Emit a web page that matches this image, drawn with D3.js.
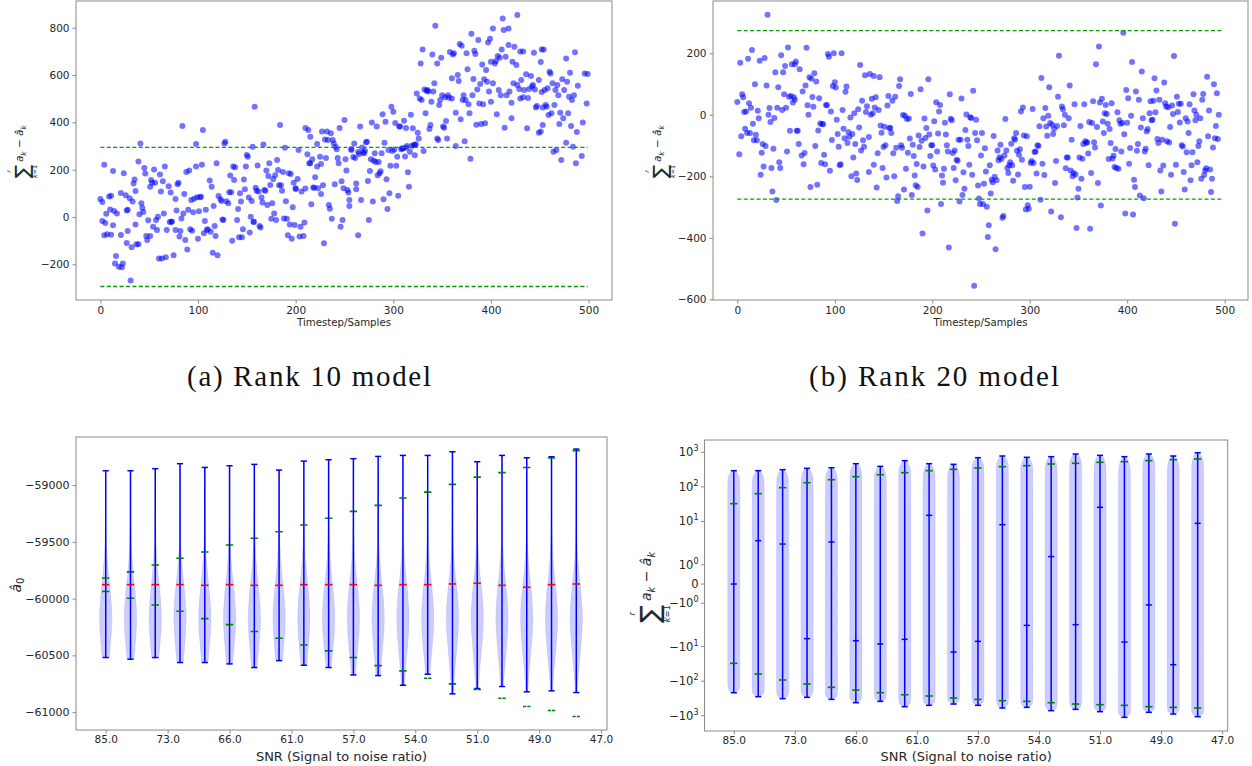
<!DOCTYPE html>
<html><head><meta charset="utf-8">
<script src="https://cdn.jsdelivr.net/npm/d3@7"></script>
<style>body{margin:0;background:#fff}svg{display:block}</style>
</head><body><svg id="c" width="1252" height="766"></svg>
<script>
// ---------------- DATA ----------------
const rank10Samples = [
0,2,4,2,5,4,7,6,9,11,10,13,11,13,14,16,15,17,19,21,21,22,23,24,26,27,27,28,28,30,31,32,33,34,35,36,36,37,39,39,40,41,42,43,44,45,46,47,48,49,
51,51,52,53,54,55,56,57,58,59,60,61,62,63,64,65,66,67,68,70,71,72,73,73,75,77,77,78,79,80,81,82,83,84,85,86,87,88,89,90,91,92,93,94,95,96,98,98,99,
100,101,102,103,104,105,106,107,108,109,110,112,113,114,115,116,117,118,119,120,121,123,124,125,126,127,128,129,131,132,133,134,135,136,137,138,140,141,142,143,144,145,146,147,148,149,150,
151,152,153,154,155,156,157,157,158,159,160,161,162,163,164,165,166,167,168,169,170,171,172,173,174,175,176,177,178,179,180,181,182,183,184,185,186,187,188,189,190,191,192,193,194,195,196,197,198,199,
200,200,202,203,204,205,206,208,209,210,210,212,213,214,215,215,216,217,218,219,220,222,222,223,225,226,226,227,228,229,230,231,232,233,234,235,236,237,238,239,240,241,242,243,244,245,246,247,248,249,250,
251,252,253,254,255,255,257,257,259,260,261,262,262,264,264,265,266,267,268,269,270,271,272,273,274,275,276,277,278,279,280,281,282,283,284,285,286,287,288,289,290,291,292,293,294,295,296,297,298,299,300,
301,302,303,304,305,306,307,308,309,310,311,312,313,313,314,315,316,317,318,319,320,321,322,322,323,324,325,326,327,328,329,330,331,332,333,334,335,336,337,338,339,340,341,342,343,345,345,346,347,348,349,350,
351,352,353,354,355,356,357,358,360,360,361,362,364,364,366,367,368,369,370,371,372,373,374,375,376,377,378,379,380,381,382,383,384,385,386,387,388,389,390,391,392,393,394,395,396,397,398,399,400,
400,402,402,404,405,406,407,408,409,410,411,412,413,414,415,416,418,418,419,421,421,422,423,424,426,427,427,429,430,430,431,433,433,434,436,437,438,439,441,442,443,444,445,446,447,449,449,451,452,453,
451,452,453,454,455,456,457,458,459,460,461,462,463,464,465,466,467,468,469,470,471,472,473,474,475,477,477,478,479,480,481,482,483,484,485,486,487,488,489,493,494,496,498,499];
const rank10Values = [
76,63,221,-17,-25,-77,-73,14,87,90,32,194,-75,-35,25,-165,-197,15,-210,101,-76,-213,-197,185,92,-110,27,-59,30,79,-269,-128,65,142,158,110,-32,-115,234,-115,11,311,58,38,21,207,184,-80,-97,-14,
-80,128,156,145,-41,201,145,-13,-55,1,-176,180,108,-176,151,15,213,-170,-55,130,-21,103,-20,-20,-162,76,-55,27,138,145,-83,-59,-6,385,15,97,-97,190,-137,30,196,-52,72,-58,20,77,308,213,83,
-92,24,83,86,221,368,-69,-17,31,-55,-52,154,-63,128,-151,46,-38,-80,227,-162,89,75,68,-11,-13,311,318,66,58,104,175,104,-100,213,156,210,-13,34,-86,100,65,-86,-52,158,117,213,262,
255,82,-66,1,68,297,-20,-21,466,124,111,218,108,-38,-45,82,61,306,114,111,196,51,173,227,135,-7,58,161,15,176,-13,241,199,134,389,134,111,190,-6,293,66,-8,-77,185,-32,182,-92,41,145,-34,
121,118,161,283,-83,-41,108,-80,-23,376,120,265,368,227,339,227,54,244,125,124,168,213,308,121,255,97,224,361,134,-111,328,249,361,325,51,35,354,-7,325,311,138,297,286,249,227,376,-41,151,-13,121,410,
244,196,114,103,72,46,283,287,254,311,249,117,142,-77,275,266,382,72,294,273,269,279,316,318,152,-13,194,244,399,65,238,269,232,382,176,232,185,193,269,434,75,314,403,159,34,283,100,217,466,279,445,
285,397,217,255,90,382,382,286,290,289,407,256,293,376,300,189,128,276,432,301,375,303,261,304,307,522,356,332,501,649,494,708,279,539,438,534,537,530,372,389,487,687,530,565,808,649,332,325,473,494,673,515,
382,377,506,406,332,515,504,697,501,586,687,692,300,441,600,575,731,413,724,494,515,320,494,692,625,477,438,246,775,515,583,703,689,390,539,748,480,562,393,645,477,582,396,621,572,738,530,753,487,
656,797,565,649,659,434,680,537,673,515,708,839,790,377,677,515,727,797,530,483,417,656,565,720,642,854,558,541,501,699,579,699,506,537,603,375,503,541,596,552,558,694,539,463,469,356,579,655,708,463,
361,528,389,708,537,473,466,544,431,614,607,438,565,276,473,537,283,558,515,393,441,241,582,417,537,314,670,572,438,508,610,385,494,297,515,696,227,359,555,258,399,607,480,604];
const rank10Bound = 294;

const rank20Samples = [
0,2,3,4,5,6,7,8,9,10,11,12,13,14,15,16,17,18,19,20,21,22,23,24,25,26,27,28,29,30,31,32,33,34,35,36,37,38,39,40,41,42,43,44,45,46,47,48,49,50,
51,52,53,54,55,56,57,58,59,59,60,61,62,63,64,66,67,68,69,70,71,72,73,74,75,76,77,78,79,80,81,82,83,84,85,86,87,88,89,90,91,92,93,94,95,96,97,98,99,100,
101,102,103,104,105,106,107,108,109,110,111,112,113,114,115,116,117,118,119,120,121,122,123,124,125,126,127,128,129,130,131,132,133,135,135,136,137,138,139,140,140,141,142,143,144,145,146,147,148,149,150,
151,152,153,154,155,156,157,158,159,160,161,162,163,164,165,166,167,168,169,170,171,172,173,174,175,176,177,178,179,180,181,182,183,184,185,186,187,188,189,190,191,192,193,194,195,196,197,198,199,200,
201,202,203,204,205,206,207,208,209,210,211,212,213,214,215,216,217,218,219,220,221,222,223,224,225,226,227,228,229,230,231,232,233,234,235,236,237,238,239,240,241,242,243,244,245,246,247,248,249,250,
251,252,253,254,255,256,257,258,259,260,261,262,263,264,265,266,267,268,269,270,271,272,273,274,275,276,277,278,279,280,281,282,283,284,285,286,287,288,289,290,291,292,293,294,295,296,297,298,299,
300,301,302,303,304,305,306,307,308,309,310,311,312,313,314,315,316,317,318,319,320,321,322,323,324,325,326,327,328,329,330,332,333,334,335,336,337,338,339,340,341,342,343,344,345,346,347,348,349,350,
351,352,353,354,355,356,357,358,359,360,361,362,363,364,365,366,367,368,369,370,371,372,373,374,375,376,377,378,379,380,381,382,383,384,385,386,387,388,389,390,391,392,393,394,395,396,397,398,399,400,
401,402,403,404,405,406,407,408,409,410,411,412,413,414,415,416,417,418,419,420,421,422,423,424,425,426,427,428,429,430,431,432,433,434,435,436,437,438,439,440,441,442,443,444,445,446,447,448,
449,450,451,452,453,454,455,456,457,458,459,460,461,462,463,464,465,466,467,468,469,470,471,472,473,474,475,476,477,478,479,480,481,482,483,484,485,486,487,488,489,490,491,492,493,494];
const rank20Values = [
42,-128,169,-70,67,57,9,-45,11,-59,182,38,-59,23,211,-29,-83,99,-65,-83,13,-11,176,-195,-123,-95,-168,185,-101,95,325,0,22,-23,-173,-249,-110,-10,138,-277,23,90,-154,-173,194,16,138,67,159,23,
-119,219,59,-52,61,164,40,57,164,49,173,-52,-52,-95,148,-132,76,-161,-124,95,218,31,0,122,-235,117,58,26,135,-101,108,-227,-51,54,-28,-157,-30,-31,-130,-161,32,31,198,189,-182,11,-82,94,200,106,
89,-16,-62,-104,-164,-161,200,16,-45,-76,75,92,-92,-57,-71,-9,-200,-62,-139,5,-95,-191,-212,18,-41,162,-116,46,-83,-104,129,9,28,-186,-72,133,0,52,5,-162,126,24,57,-236,-125,16,122,-35,-58,-173,-105,
-39,-99,-204,30,61,-43,-43,-59,46,-125,-200,59,-107,-280,-265,94,116,-99,-107,-1,-243,-3,-175,-14,-123,-12,-77,68,-261,-97,-134,-197,-229,-160,-235,-67,-105,83,-84,-386,-168,-12,-75,-43,-311,116,-64,-134,-99,-99,
-165,-21,-178,41,-119,-61,11,32,-290,-197,-221,-175,-26,-64,-99,-119,-431,67,-13,-18,-124,-173,-116,-213,-146,-149,-81,-282,-81,53,-261,-187,-240,-49,1,-81,-101,-162,-8,-10,-195,78,-556,-59,-16,-83,-230,-272,-290,-132,
-59,-290,-224,-109,-184,-299,-397,-359,-164,-256,-211,-219,-69,-201,-437,-213,-116,-148,-138,-97,-144,-335,-329,-132,-14,-116,-173,-189,-164,-154,-94,-164,-214,-76,-81,-59,-117,-194,-130,-112,11,-146,24,-67,-235,-308,-70,-294,-305,
-234,-157,-150,19,-157,-121,-119,-191,-99,-101,-37,-276,120,-159,-11,-196,22,-38,-68,-3,90,-27,-314,-32,-62,-45,-222,-150,-36,59,192,-333,27,18,-34,0,-174,-139,-139,-11,95,-181,-81,-200,-189,34,-194,-368,-269,-240,
-139,-36,-208,-143,-95,34,-86,-92,-89,-126,-23,-370,-189,-27,44,-89,-106,164,-40,-222,222,40,-295,52,-22,-59,5,32,3,-29,-144,-46,-92,38,-142,-133,-170,-111,-173,8,-175,-18,-29,-119,-27,267,-63,-321,81,-26,
54,-159,-108,-3,172,-324,-211,-235,76,-117,-95,49,-262,-41,141,-11,-271,-119,-110,-54,-46,-164,5,44,-18,-16,46,119,8,79,-79,-92,49,-181,-249,-81,-165,105,38,27,-86,25,-90,-40,-195,30,3,191,
-354,-162,59,9,36,-25,36,-99,-103,-186,-243,-11,-122,-22,-59,34,-213,-164,-122,67,14,-18,0,-154,-101,-86,-11,-208,49,68,-196,-181,-174,124,-70,14,-178,-251,-208,-106,99,-76,-36,70,-79,0];
const rank20Bound = 274;

const timeTicks = [0,100,200,300,400,500];
const rank10YTicks = [-200,0,200,400,600,800];
const rank20YTicks = [-600,-400,-200,0,200];

const snrTickPositions = [0,2.5,5,7.5,10,12.5,15,17.5,20];
const snrTickLabels = ["85.0","73.0","66.0","61.0","57.0","54.0","51.0","49.0","47.0"];
const violinPositions = [0,1,2,3,4,5,6,7,8,9,10,11,12,13,14,15,16,17,18,19];

// bottom-left: a0 estimates
const a0Max = [-58874,-58874,-58856,-58812,-58845,-58830,-58818,-58868,-58789,-58777,-58768,-58748,-58739,-58739,-58707,-58795,-58739,-58760,-58751,-58683];
const a0Min = [-60519,-60534,-60519,-60563,-60563,-60575,-60607,-60546,-60587,-60607,-60672,-60678,-60763,-60666,-60839,-60792,-60774,-60821,-60812,-60827];
const a0Median = [-59877,-59877,-59877,-59877,-59883,-59877,-59883,-59883,-59877,-59877,-59877,-59883,-59877,-59877,-59871,-59865,-59883,-59900,-59877,-59871];
const a0GreenHi = [-59818,-59765,-59704,-59645,-59589,-59528,-59469,-59411,-59352,-59293,-59232,-59179,-59114,-59062,-58994,-58930,-58891,-58845,-58762,-58698];
const a0GreenLo = [-59938,-59997,-60056,-60111,-60176,-60229,-60290,-60349,-60408,-60460,-60519,-60590,-60636,-60701,-60751,-60801,-60877,-60950,-60985,-61038];
const a0YTicks = [-61000,-60500,-60000,-59500,-59000];
const a0ProfileValues = [-61200,-60900,-60750,-60600,-60450,-60300,-60200,-60100,-59950,-59800,-59650,-59500,-59300,-59000,-58600];
const a0ProfileWidths = [0.05,0.12,0.25,0.45,0.7,0.92,1.0,0.97,0.78,0.48,0.25,0.12,0.06,0.04,0.03];

// bottom-right: sum of errors (symlog)
const sumMax = [294,294,315,344,359,469,393,573,469,449,700,782,715,748,893,817,748,893,782,975];
const sumMin = [-216,-281,-321,-294,-337,-420,-384,-548,-501,-459,-501,-598,-573,-715,-655,-764,-1114,-800,-893,-1066];
const sumMedian = [0,2.78,2.22,-5.9,2.54,-6.75,-8.43,-6.18,15.0,-14.4,-7.06,8.05,-2.43,1.43,-2.32,25.6,-7.38,-1.09,-33.4,8.81];
const sumGreenHi = [32.7,63.5,94.8,132,161,197,225,258,294,321,351,384,410,459,480,513,536,573,612,640];
const sumGreenLo = [-30.5,-62.2,-92.6,-121,-151,-181,-216,-247,-269,-308,-337,-367,-384,-420,-459,-480,-501,-548,-573,-598];
const sumYTicks = [1000,100,10,1,0,-1,-10,-100,-1000];
const sumProfileT = [0,0.04,0.1,0.2,0.5,0.75,0.85,0.93,1];
const sumProfileW = [0.35,0.7,0.92,1,1,0.97,0.8,0.55,0.3];

// ---------------- DRAWING ----------------
const svg = d3.select("#c");
const FONT = "DejaVu Sans, Verdana, sans-serif";
const SPINE = "#8a8a8a", TXT = "#262626";

function frame(x0, x1, y0, y1) {
  svg.append("rect").attr("x", x0).attr("y", y0).attr("width", x1 - x0).attr("height", y1 - y0)
    .attr("fill", "none").attr("stroke", SPINE).attr("stroke-width", 1);
}
function styleAxis(g, fs) {
  g.select(".domain").remove();
  g.selectAll(".tick line").attr("stroke", SPINE);
  g.selectAll(".tick text").attr("font-family", FONT).attr("font-size", fs).attr("fill", TXT);
}
function sigmaLabel(cx, cy, s) {
  const g = svg.append("g").attr("transform", `translate(${cx},${cy}) rotate(-90)`);
  const inner = g.append("g").attr("transform", `translate(${-2.6 * s},0)`);
  const sig = inner.append("text").attr("x", 0.55 * s).attr("y", 0.62 * s).attr("font-size", 1.9 * s)
    .attr("font-family", FONT).attr("fill", TXT).attr("text-anchor", "middle").text("\u2211");
  inner.append("text").attr("x", 0.55 * s).attr("y", -1.05 * s).attr("font-size", 0.6 * s)
    .attr("font-family", FONT).attr("font-style", "italic").attr("fill", TXT).attr("text-anchor", "middle").text("r");
  const lo = inner.append("text").attr("x", 0.55 * s).attr("y", 1.45 * s).attr("font-size", 0.6 * s)
    .attr("font-family", FONT).attr("fill", TXT).attr("text-anchor", "middle");
  lo.append("tspan").attr("font-style", "italic").text("k");
  lo.append("tspan").text("=1");
  const m = inner.append("text").attr("x", 1.45 * s).attr("y", 0.05 * s).attr("font-size", s)
    .attr("font-family", FONT).attr("fill", TXT);
  m.append("tspan").attr("font-style", "italic").text("a");
  m.append("tspan").attr("font-style", "italic").attr("font-size", 0.7 * s).attr("dy", 0.3 * s).text("k");
  m.append("tspan").attr("dy", -0.3 * s).text(" \u2212 ");
  m.append("tspan").attr("font-style", "italic").text("\u00e2");
  m.append("tspan").attr("font-style", "italic").attr("font-size", 0.7 * s).attr("dy", 0.3 * s).text("k");
}

// ----- scatter panels -----
function scatterPanel(box, yDomain, samples, values, bound, yTicks) {
  const x = d3.scaleLinear().domain([-24.95, 523.95]).range([box.x0, box.x1]);
  const y = d3.scaleLinear().domain(yDomain).range([box.y1, box.y0]);
  const g = svg.append("g");
  g.selectAll("circle").data(d3.range(values.length)).join("circle")
    .attr("cx", i => x(samples[i])).attr("cy", i => y(values[i])).attr("r", 3)
    .attr("fill", "#0000ff").attr("fill-opacity", 0.55);
  [bound, -bound].forEach(b => {
    svg.append("line").attr("x1", x(0)).attr("x2", x(499)).attr("y1", y(b)).attr("y2", y(b))
      .attr("stroke", "#00a000").attr("stroke-width", 1.3).attr("stroke-dasharray", "4,2.4");
  });
  frame(box.x0, box.x1, box.y0, box.y1);
  const gx = svg.append("g").attr("transform", `translate(0,${box.y1})`)
    .call(d3.axisBottom(x).tickValues(timeTicks).tickSize(3.5).tickPadding(3).tickFormat(d3.format("d")));
  styleAxis(gx, 10.5);
  const gy = svg.append("g").attr("transform", `translate(${box.x0},0)`)
    .call(d3.axisLeft(y).tickValues(yTicks).tickSize(3.5).tickPadding(3).tickFormat(d3.format("d")));
  styleAxis(gy, 10.5);
  svg.append("text").attr("x", (box.x0 + box.x1) / 2).attr("y", 326).attr("text-anchor", "middle")
    .attr("font-family", FONT).attr("font-size", 10.2).attr("fill", TXT).text("Timestep/Samples");
}
scatterPanel({ x0: 76, x1: 612, y0: 1, y1: 300 }, [-351, 913], rank10Samples, rank10Values, rank10Bound, rank10YTicks);
sigmaLabel(22, 150, 10.5);
scatterPanel({ x0: 713, x1: 1248, y0: 1, y1: 300 }, [-602, 370], rank20Samples, rank20Values, rank20Bound, rank20YTicks);
sigmaLabel(660, 150, 10.5);

// captions
svg.append("text").attr("x", 309).attr("y", 386).attr("text-anchor", "middle")
  .attr("font-family", "Liberation Serif, serif").attr("font-size", 29).attr("fill", "#111")
  .attr("textLength", 244).attr("lengthAdjust", "spacing").text("(a) Rank 10 model");
svg.append("text").attr("x", 934).attr("y", 386).attr("text-anchor", "middle")
  .attr("font-family", "Liberation Serif, serif").attr("font-size", 29).attr("fill", "#111")
  .attr("textLength", 250).attr("lengthAdjust", "spacing").text("(b) Rank 20 model");

// ----- violin helpers -----
function drawViolin(cx, pts, halfW) {
  const area = d3.area().x0(d => cx - d.w * halfW).x1(d => cx + d.w * halfW).y(d => d.y);
  svg.append("path").attr("d", area(pts)).attr("fill", "#0000ff").attr("fill-opacity", 0.2)
    .attr("stroke", "#0000ff").attr("stroke-opacity", 0.08).attr("stroke-width", 1);
}
function hline(x1, x2, yy, color, dash, w) {
  const l = svg.append("line").attr("x1", x1).attr("x2", x2).attr("y1", yy).attr("y2", yy)
    .attr("stroke", color).attr("stroke-width", w || 1.5);
  if (dash) l.attr("stroke-dasharray", dash);
}
function snrXAxis(x, yb) {
  const gx = svg.append("g").attr("transform", `translate(0,${yb})`)
    .call(d3.axisBottom(x).tickValues(snrTickPositions).tickSize(3.5).tickPadding(2)
      .tickFormat((d, i) => snrTickLabels[i]));
  styleAxis(gx, 10.5);
}
function snrLabel(cx) {
  svg.append("text").attr("x", cx).attr("y", 761).attr("text-anchor", "middle")
    .attr("font-family", FONT).attr("font-size", 13).attr("fill", TXT).text("SNR (Signal to noise ratio)");
}

// ----- bottom-left -----
(function () {
  const box = { x0: 76, x1: 607, y0: 437, y1: 730 };
  const x = d3.scaleLinear().domain([-1.2, 20.24]).range([box.x0, box.x1]);
  const y = d3.scaleLinear().domain([-61157, -58577]).range([box.y1, box.y0]);
  const prof = d3.scaleLinear().domain(a0ProfileValues).range(a0ProfileWidths).clamp(true);
  const unit = x(1) - x(0);
  violinPositions.forEach((p, i) => {
    const cx = x(p);
    const pts = d3.range(0, 61).map(k => {
      const v = a0Min[i] + (a0Max[i] - a0Min[i]) * k / 60;
      return { y: y(v), w: prof(v) };
    });
    drawViolin(cx, pts, 0.25 * unit);
  });
  violinPositions.forEach((p, i) => {
    const cx = x(p), cap = 0.125 * unit;
    svg.append("line").attr("x1", cx).attr("x2", cx).attr("y1", y(a0Min[i])).attr("y2", y(a0Max[i]))
      .attr("stroke", "#0000ff").attr("stroke-width", 1.5);
    hline(cx - cap, cx + cap, y(a0Min[i]), "#0000ff");
    hline(cx - cap, cx + cap, y(a0Max[i]), "#0000ff");
    hline(cx - 0.15 * unit, cx + 0.15 * unit, y(a0Median[i]), "#ff0000", null, 1.6);
    hline(cx - 0.15 * unit, cx + 0.15 * unit, y(a0GreenHi[i]), "#008000", "3.2,1", 1.6);
    hline(cx - 0.15 * unit, cx + 0.15 * unit, y(a0GreenLo[i]), "#008000", "3.2,1", 1.6);
  });
  frame(box.x0, box.x1, box.y0, box.y1);
  snrXAxis(x, box.y1);
  const gy = svg.append("g").attr("transform", `translate(${box.x0},0)`)
    .call(d3.axisLeft(y).tickValues(a0YTicks).tickSize(3.5).tickPadding(3).tickFormat(d3.format("d")));
  styleAxis(gy, 11);
  snrLabel((box.x0 + box.x1) / 2);
  const lab = svg.append("text").attr("transform", "translate(21,585) rotate(-90)").attr("text-anchor", "middle")
    .attr("font-family", FONT).attr("font-size", 14).attr("fill", TXT);
  lab.append("tspan").attr("font-style", "italic").text("\u00e2");
  lab.append("tspan").attr("font-size", 10).attr("dy", 3).text("0");
})();

// ----- bottom-right (symlog, linthresh 2) -----
const LINTHRESH = 2, LINSCALE_ADJ = 1 / (1 - 1 / 10);
function symlogT(v) {
  const a = Math.abs(v);
  return a <= LINTHRESH ? v / LINTHRESH * LINSCALE_ADJ : Math.sign(v) * (LINSCALE_ADJ + Math.log10(a / LINTHRESH));
}
function symlogInv(f) {
  const a = Math.abs(f);
  return a <= LINSCALE_ADJ ? f * LINTHRESH / LINSCALE_ADJ : Math.sign(f) * LINTHRESH * Math.pow(10, a - LINSCALE_ADJ);
}
(function () {
  const box = { x0: 704.5, x1: 1227.7, y0: 440, y1: 731 };
  const x = d3.scaleLinear().domain([-1.2, 20.23]).range([box.x0, box.x1]);
  const yl = d3.scaleLinear().domain([-4.252, 4.166]).range([box.y1, box.y0]);
  const y = v => yl(symlogT(v));
  const prof = d3.scaleLinear().domain(sumProfileT).range(sumProfileW).clamp(true);
  const unit = x(1) - x(0);
  violinPositions.forEach((p, i) => {
    const cx = x(p);
    const f0 = symlogT(sumMin[i]), f1 = symlogT(sumMax[i]);
    const pts = d3.range(0, 81).map(k => {
      const f = f0 + (f1 - f0) * k / 80;
      const v = symlogInv(f);
      return { y: yl(f), w: prof((v - sumMin[i]) / (sumMax[i] - sumMin[i])) };
    });
    drawViolin(cx, pts, 0.25 * unit);
  });
  violinPositions.forEach((p, i) => {
    const cx = x(p), cap = 0.125 * unit;
    svg.append("line").attr("x1", cx).attr("x2", cx).attr("y1", y(sumMin[i])).attr("y2", y(sumMax[i]))
      .attr("stroke", "#0000ff").attr("stroke-width", 1.5);
    hline(cx - cap, cx + cap, y(sumMin[i]), "#0000ff");
    hline(cx - cap, cx + cap, y(sumMax[i]), "#0000ff");
    hline(cx - cap, cx + cap, y(sumMedian[i]), "#0000ff");
    hline(cx - 0.15 * unit, cx + 0.15 * unit, y(sumGreenHi[i]), "#008000", null, 1.6);
    hline(cx - 0.15 * unit, cx + 0.15 * unit, y(sumGreenLo[i]), "#008000", null, 1.6);
  });
  frame(box.x0, box.x1, box.y0, box.y1);
  snrXAxis(x, box.y1);
  const gy = svg.append("g").attr("transform", `translate(${box.x0},0)`);
  sumYTicks.forEach(v => {
    const yy = y(v);
    gy.append("line").attr("x1", -3.5).attr("x2", 0).attr("y1", yy).attr("y2", yy).attr("stroke", SPINE);
    const t = gy.append("text").attr("x", -6).attr("y", yy + 4).attr("text-anchor", "end")
      .attr("font-family", FONT).attr("font-size", 11.5).attr("fill", TXT);
    if (v === 0) { t.text("0"); return; }
    const e = Math.round(Math.log10(Math.abs(v)));
    t.append("tspan").text((v < 0 ? "\u2212" : "") + "10");
    t.append("tspan").attr("font-size", 8).attr("dy", -5).text(String(e));
  });
  snrLabel((box.x0 + box.x1) / 2);
  sigmaLabel(650, 585, 14);
})();
</script></body></html>
